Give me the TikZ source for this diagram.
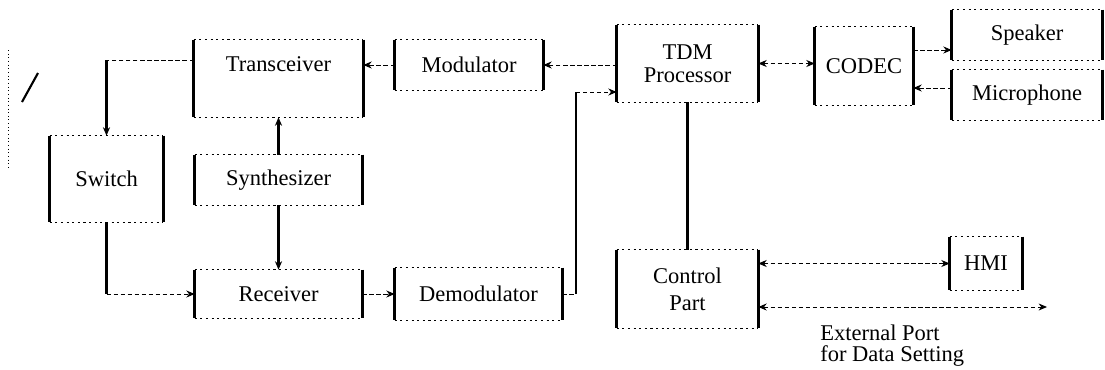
\documentclass[tikz,border=0pt]{standalone}
\usepackage{fontspec}
\setmainfont{Liberation Serif}
\usetikzlibrary{arrows.meta,calc}
\begin{document}
\begin{tikzpicture}[x=0.025cm,y=-0.025cm,
  font=\fontsize{16}{16}\selectfont,
  box/.style 2 args={rectangle, inner sep=0pt, minimum width=#1*0.025cm, minimum height=#2*0.025cm, align=center},
  side/.style={line width=2.2pt},
  edgeh/.style={line width=0.5pt, dash pattern=on 1.5pt off 2.5pt},
  vcon/.style={line width=1.8pt},
  hcon/.style={line width=0.6pt, dash pattern=on 3pt off 2pt},
  tip/.style={-{Stealth[length=6pt,width=5pt]}},
  biarr/.style={{Stealth[length=6pt,width=5pt]}-{Stealth[length=6pt,width=5pt]}}]
\useasboundingbox (0,0) rectangle (1105,369);

% blocks
\node[box={113}{86}] (sw) at (106.5,179) {Switch};
\node[box={169}{77}] (tr) at (278.5,78.5) {};
\node (trl) at (278.5,64) {Transceiver};
\node[box={167}{50}] (sy) at (278.5,180) {Synthesizer};
\node[box={167}{48}] (rx) at (278.5,294) {Receiver};
\node[box={148}{50}] (mo) at (469,65) {Modulator};
\node[box={167}{52}] (de) at (478.5,294) {Demodulator};
\node[box={141}{77}] (tdm) at (687.5,63.5) {TDM\\Processor};
\node[box={141}{78}] (cp) at (687.5,289) {Control\\[3pt]Part};
\node[box={98}{78}] (co) at (864,66) {CODEC};
\node[box={150}{50}] (sp) at (1027,35) {Speaker};
\node[box={150}{50}] (mi) at (1027,95) {Microphone};
\node[box={72}{53}] (hmi) at (986,263.5) {HMI};

\foreach \n in {sw,tr,sy,rx,mo,de,tdm,cp,co,sp,mi,hmi}{
  \draw[side] (\n.north west) -- (\n.south west);
  \draw[side] (\n.north east) -- (\n.south east);
  \draw[edgeh] (\n.north west) -- (\n.north east);
  \draw[edgeh] (\n.south west) -- (\n.south east);
}

% antenna
\draw[line width=1.5pt] (22,102) -- (38,73);
\draw[line width=0.6pt, dotted] (8,50) -- (8,168);

% Transceiver -> Switch
\coordinate (c1) at (sw.north |- 0,60);
\draw[hcon] (tr.west |- c1) -- (c1);
\draw[vcon,tip] (c1) -- (sw.north);
% Switch -> Receiver
\coordinate (c2) at (sw.south |- rx.west);
\draw[vcon] (sw.south) -- (c2);
\draw[hcon,tip] (c2) -- (rx.west);
% Synthesizer -> Transceiver / Receiver
\draw[vcon,tip] (sy.north) -- (tr.south);
\draw[vcon,tip] (sy.south) -- (rx.north);
% Modulator -> Transceiver
\draw[hcon,tip] (mo.west) -- (mo.west -| tr.east);
% TDM -> Modulator
\draw[hcon,tip] (tdm.west |- mo.east) -- (mo.east);
% Receiver -> Demodulator
\draw[hcon,tip] (rx.east) -- (de.west);
% Demodulator -> TDM
\coordinate (c3) at (576,92);
\draw[hcon] (de.east) -- (de.east -| c3);
\draw[vcon] (de.east -| c3) -- (c3);
\draw[hcon,tip] (c3) -- (c3 -| tdm.west);
% TDM -- Control
\draw[vcon] (tdm.south) -- (cp.north);
% TDM <-> CODEC
\draw[hcon,biarr] (tdm.east) -- (tdm.east -| co.west);
% CODEC -> Speaker, Microphone -> CODEC
\coordinate (c4) at (co.east |- 0,50);
\draw[hcon,tip] (c4) -- (c4 -| sp.west);
\coordinate (c5) at (co.east |- 0,88);
\draw[hcon,tip] (c5 -| mi.west) -- (c5);
% Control <-> HMI
\draw[hcon,biarr] (cp.east |- hmi.west) -- (hmi.west);
% Control <-> external port
\coordinate (ext) at (1047,307);
\draw[hcon,biarr] (cp.east |- ext) -- (ext);
\node[align=left, anchor=north west, inner sep=0pt, font=\fontsize{16}{15}\selectfont] (extl) at (820,325) {External Port\\for Data Setting};
\end{tikzpicture}
\end{document}
